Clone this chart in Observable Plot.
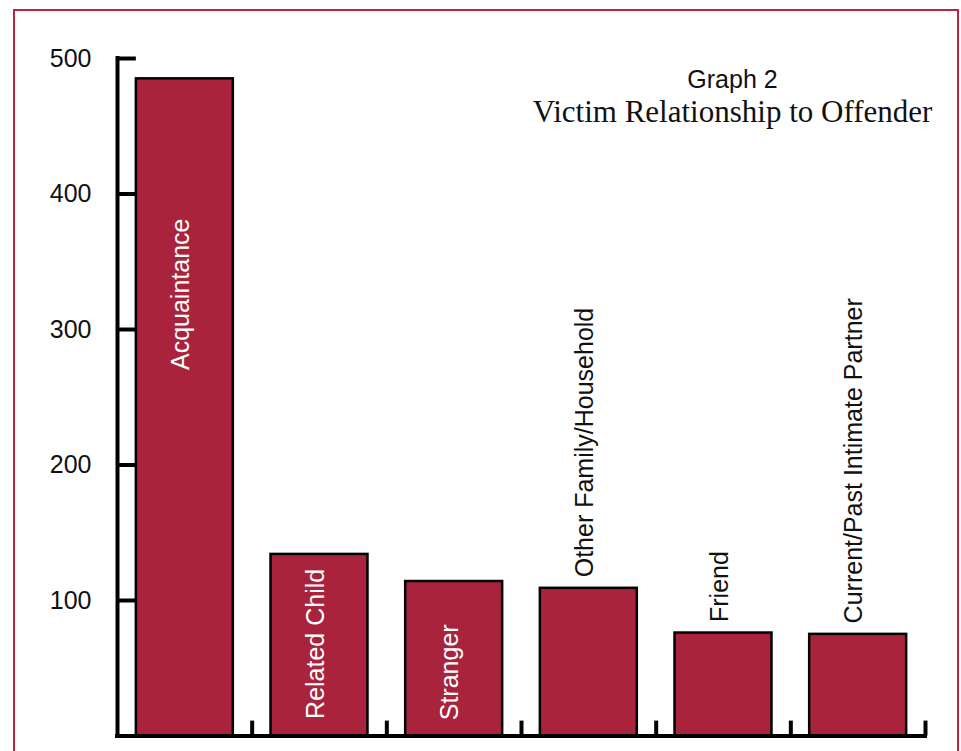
<!DOCTYPE html>
<html><head><meta charset="utf-8">
<script src="https://cdn.jsdelivr.net/npm/d3@7"></script>
<script src="https://cdn.jsdelivr.net/npm/@observablehq/plot@0.6"></script>
<style>
html,body{margin:0;padding:0;overflow:hidden;background:#fff;width:961px;height:751px;}
#wrap{position:relative;width:961px;height:751px;overflow:hidden;}
#chart{position:absolute;left:0;top:0;}
#border{position:absolute;left:13px;top:9px;width:946px;height:800px;box-sizing:border-box;border:2px solid #c0243c;pointer-events:none;}
#title{position:absolute;left:482px;width:501px;top:64px;text-align:center;color:#111;}
.t1{font-family:"Liberation Sans",Arial,sans-serif;font-size:25px;line-height:30px;}
.t2{font-family:"Liberation Serif","Times New Roman",serif;font-size:31px;line-height:36px;}
</style></head>
<body><div id="wrap"><div id="chart"></div><div id="title"><div class="t1">Graph 2</div><div class="t2">Victim Relationship to Offender</div></div><div id="border"></div></div>
<script>
const categories = ["Acquaintance", "Related Child", "Stranger", "Other Family/Household", "Friend", "Current/Past Intimate Partner"];
const counts = [485, 134, 114, 109, 76, 75];
const yTicks = [100, 200, 300, 400, 500];
const labelInside = [true, true, true, false, false, false];

const data = categories.map((c, i) => ({category: c, index: i, count: counts[i], inside: labelInside[i]}));
const half = 0.36;
const xMin = -0.5, xMax = categories.length - 0.5;
const bounds = d3.range(categories.length).map(i => i + 0.5);
const insideCenter = {"Acquaintance": 326, "Related Child": 68, "Stranger": 47};

const chart = Plot.plot({
  width: 961, height: 751,
  marginLeft: 117, marginRight: 36, marginTop: 58, marginBottom: 15.5,
  x: {domain: [xMin, xMax], axis: null},
  y: {domain: [0, 500], label: null},
  style: {fontFamily: "Liberation Sans, Arial, sans-serif", background: "transparent", color: "#000"},
  marks: [
    Plot.rectY(data, {x1: d => d.index - half, x2: d => d.index + half, y1: 0, y2: "count", fill: "#a8233b", stroke: "#000", strokeWidth: 2.5}),
    Plot.ruleY(yTicks, {x1: xMin, x2: -half, stroke: "#000", strokeWidth: 4}),
    Plot.ruleX([xMin], {y1: 0, y2: 500, stroke: "#000", strokeWidth: 4, strokeLinecap: "square"}),
    Plot.ruleY([0], {x1: xMin, x2: xMax, stroke: "#000", strokeWidth: 4, strokeLinecap: "square"}),
    Plot.ruleX(bounds, {y1: 0, y2: 11, stroke: "#000", strokeWidth: 4}),
    Plot.axisY({ticks: yTicks, tickSize: 0, tickPadding: 26, fontSize: 25, label: null, fill: "#111"}),
    Plot.text(data.filter(d => d.inside), {x: "index", y: d => insideCenter[d.category], text: "category", rotate: -90, fill: "white", fontSize: 25, dx: -4}),
    Plot.text(data.filter(d => !d.inside), {x: "index", y: "count", text: "category", rotate: -90, textAnchor: "start", dy: -11, dx: -4, fill: "#111", fontSize: 25})
  ]
});
document.getElementById("chart").appendChild(chart);
</script>
</body></html>
